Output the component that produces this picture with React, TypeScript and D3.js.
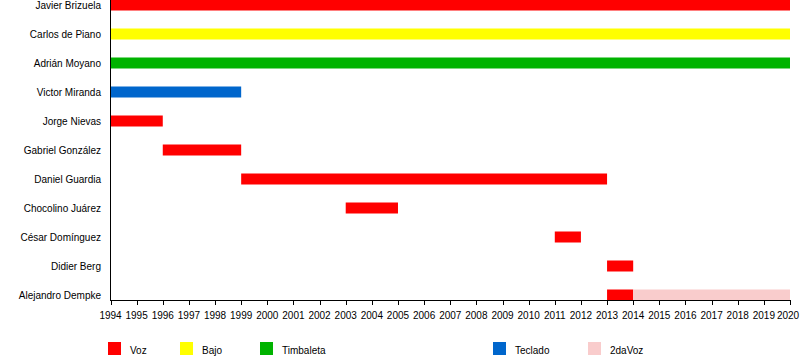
import React from "react";
import * as d3 from "d3";

const members = [
  "Javier Brizuela",
  "Carlos de Piano",
  "Adrián Moyano",
  "Victor Miranda",
  "Jorge Nievas",
  "Gabriel González",
  "Daniel Guardia",
  "Chocolino Juárez",
  "César Domínguez",
  "Didier Berg",
  "Alejandro Dempke",
];

const roles = ["Voz", "Bajo", "Timbaleta", "Teclado", "2daVoz"];
const roleColors = ["#ff0000", "#ffff00", "#00b300", "#0066cc", "#f9cccc"];

// [member, role, start, end]
const periods: [string, string, number, number][] = [
  ["Javier Brizuela", "Voz", 1994, 2020],
  ["Carlos de Piano", "Bajo", 1994, 2020],
  ["Adrián Moyano", "Timbaleta", 1994, 2020],
  ["Victor Miranda", "Teclado", 1994, 1999],
  ["Jorge Nievas", "Voz", 1994, 1996],
  ["Gabriel González", "Voz", 1996, 1999],
  ["Daniel Guardia", "Voz", 1999, 2013],
  ["Chocolino Juárez", "Voz", 2003, 2005],
  ["César Domínguez", "Voz", 2011, 2012],
  ["Didier Berg", "Voz", 2013, 2014],
  ["Alejandro Dempke", "Voz", 2013, 2014],
  ["Alejandro Dempke", "2daVoz", 2014, 2020],
];

const years = d3.range(1994, 2021);
const legendX = [108, 180, 260, 493, 588];

export default function App() {
  const W = 800, H = 360;
  const x = d3.scaleLinear().domain([1994, 2020]).range([110.5, 790]);
  const y = d3.scaleBand().domain(members).range([-9.5, 309.5]).paddingInner(0).paddingOuter(0);
  const color = d3.scaleOrdinal<string, string>().domain(roles).range(roleColors);
  const barH = 11;
  const font = "Liberation Sans, Arial, sans-serif";
  return (
    <svg width={W} height={H} style={{ position: "absolute", left: 0, top: 0, background: "#fff" }} fontFamily={font}>
      {periods.map(([m, r, s, e], i) => (
        <rect key={i} x={x(s)} width={x(e) - x(s)} y={y(m)! + y.bandwidth() / 2 - barH / 2} height={barH} fill={color(r)} />
      ))}
      {members.map((m) => (
        <text key={m} x={101} y={y(m)! + y.bandwidth() / 2} dy="0.35em" textAnchor="end" fontSize={10} fill="#000">
          {m}
        </text>
      ))}
      <line x1={110.5} x2={110.5} y1={0} y2={300.5} stroke="#000" />
      <line x1={110} x2={790.5} y1={300.5} y2={300.5} stroke="#000" />
      {years.map((yr) => (
        <g key={yr}>
          <line x1={Math.round(x(yr)) + 0.5} x2={Math.round(x(yr)) + 0.5} y1={300} y2={305} stroke="#000" />
          <text x={Math.min(x(yr), 788)} y={319} textAnchor="middle" fontSize={10} fill="#000">{yr}</text>
        </g>
      ))}
      {roles.map((r, i) => (
        <g key={r}>
          <rect x={legendX[i]} y={342} width={13} height={13} fill={roleColors[i]} />
          <text x={legendX[i] + 22} y={354} fontSize={10} fill="#000">{r}</text>
        </g>
      ))}
    </svg>
  );
}
